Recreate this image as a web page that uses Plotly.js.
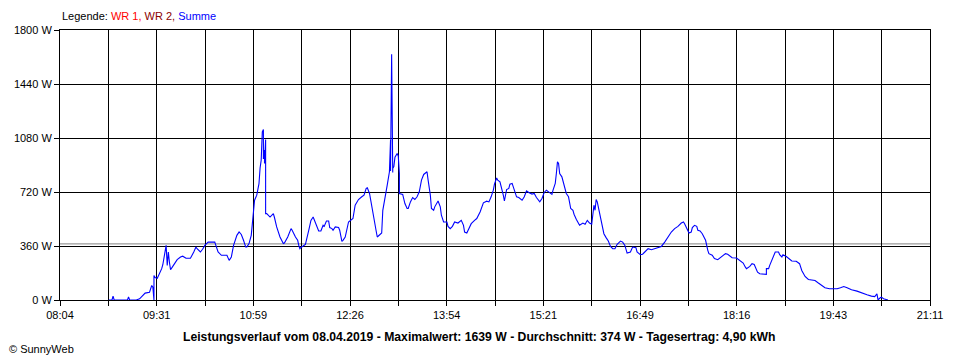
<!DOCTYPE html>
<html>
<head>
<meta charset="utf-8">
<script src="https://cdn.plot.ly/plotly-3.0.1.min.js"></script>
<style>
html,body{margin:0;padding:0;background:#fff;}
#chart{width:960px;height:360px;}
</style>
</head>
<body>
<div id="chart"></div>
<script>
// ---- data ----
const times = [
"08:48","08:51","08:52","08:53","09:05","09:06","09:07","09:13","09:16","09:19",
"09:21","09:25","09:27","09:28","09:29","09:29","09:30","09:32","09:34","09:36",
"09:37","09:39","09:40","09:41","09:42","09:43","09:44","09:46","09:50","09:53",
"09:55","09:58","10:02","10:05","10:07","10:08","10:11","10:13","10:15","10:18",
"10:24","10:25","10:27","10:30","10:35","10:37","10:39","10:41","10:44","10:46",
"10:48","10:50","10:52","10:53","10:55","10:57","10:58","10:59","11:00","11:02",
"11:03","11:04","11:05","11:06","11:07","11:08","11:08","11:09","11:09","11:10",
"11:10","11:11","11:14","11:17","11:18","11:20","11:23","11:26","11:27","11:30",
"11:33","11:34","11:37","11:39","11:40",
"11:41","11:42","11:46","11:49","11:51","11:53","11:55","11:58","12:00","12:02",
"12:03","12:05","12:07","12:08","12:10","12:11","12:13","12:16","12:17","12:19",
"12:20","12:22","12:25","12:27","12:29","12:31","12:34","12:37","12:39","12:41",
"12:42","12:44","12:46","12:48","12:50","12:51","12:53","12:55","12:56","12:59",
"13:00","13:02","13:03","13:03","13:04","13:05","13:05","13:06","13:07","13:09",
"13:10","13:11","13:11","13:14","13:16","13:18","13:19","13:21","13:23","13:25",
"13:27","13:29","13:31","13:33","13:36","13:37","13:39","13:40","13:42","13:43",
"13:45","13:46","13:48","13:49","13:51","13:54","13:55","13:57","13:59","14:01",
"14:04","14:07","14:09","14:10","14:12","14:14","14:16","14:19","14:21","14:24",
"14:27","14:30","14:32","14:34","14:36","14:37","14:39","14:40","14:42",
"14:45","14:46","14:48","14:50","14:51","14:53","14:55","14:57","14:59","15:02",
"15:04","15:06","15:08","15:11","15:13","15:15","15:18","15:20","15:22","15:24",
"15:26","15:29","15:30","15:32","15:33","15:34","15:35","15:36","15:38","15:40",
"15:42","15:44","15:46","15:48","15:49","15:51","15:54","15:57","15:59","16:01",
"16:03","16:05","16:06","16:07","16:08","16:09","16:10","16:12","16:13","16:15",
"16:16","16:18","16:20","16:22","16:24","16:26","16:28","16:31","16:33","16:35",
"16:37","16:40","16:42","16:45","16:46","16:49","16:51","16:53","16:56","16:59",
"17:02","17:06","17:08","17:11","17:14","17:17","17:20","17:23","17:26","17:28",
"17:29","17:31","17:33","17:35","17:36","17:38","17:40","17:41","17:43",
"17:45","17:48","17:50","17:51","17:54","17:56","17:59","18:02","18:06","18:08",
"18:12","18:16","18:18","18:22","18:24","18:25","18:28","18:30","18:32","18:34",
"18:35","18:37","18:40","18:43","18:43","18:45","18:46","18:48","18:49","18:51",
"18:54","18:55","18:57","18:58","19:01","19:03","19:06","19:10","19:13","19:15",
"19:18","19:21","19:27","19:30","19:33","19:36","19:40","19:47","19:50","19:53",
"19:56","20:00","20:05","20:09","20:14","20:18","20:21","20:23","20:24","20:26",
"20:27","20:29","20:32","20:33"
];
const summe = [
0,0,25,0,0,20,0,0,8,30,
46,52,97,86,0,164,150,145,175,209,
235,320,364,231,320,250,202,224,269,287,
292,278,278,320,353,342,320,338,364,386,
386,364,320,298,298,264,287,364,431,454,
437,398,353,353,376,431,520,576,665,699,
754,776,880,932,1121,1137,940,999,910,1070,
576,576,553,576,550,487,420,376,380,420,
476,465,420,398,364,
342,350,371,464,531,553,520,460,460,498,
491,527,527,483,476,465,487,483,465,391,
398,420,520,531,543,632,670,688,699,744,
748,710,621,520,460,420,435,447,598,710,
766,855,1067,860,1639,850,877,890,952,977,
960,843,710,704,643,610,610,654,683,670,
688,721,799,837,855,799,699,610,598,621,
654,660,621,565,520,520,491,476,491,520,
513,531,498,453,447,476,509,531,543,587,
648,659,654,688,732,772,814,799,788,
699,660,736,744,772,777,732,688,683,665,
688,728,717,706,710,683,654,677,717,732,
721,704,732,777,843,921,910,843,821,754,
710,688,610,598,572,539,498,513,505,531,
513,505,565,632,598,670,654,587,543,491,
442,416,393,357,342,342,371,393,386,364,
313,320,353,349,320,302,305,320,342,335,
342,349,357,386,420,453,476,491,513,520,
509,483,447,453,483,498,491,465,460,
442,398,331,309,298,276,269,287,309,305,
282,280,269,246,219,209,224,242,237,209,
186,175,171,171,209,209,231,264,290,320,
320,302,287,302,290,276,260,258,242,197,
157,137,130,113,97,82,75,75,82,90,
82,68,59,46,35,26,23,41,1,15,
19,8,1,0
];
const average = 374;      // Durchschnitt, W
const xTickLabels = ["08:04","09:31","10:59","12:26","13:54","15:21","16:49","18:16","19:43","21:11"];
const yTickValues = [0, 360, 720, 1080, 1440, 1800];
const yTickLabels = ["0 W","360 W","720 W","1080 W","1440 W","1800 W"];
const titleText = "Leistungsverlauf vom 08.04.2019 - Maximalwert: 1639 W - Durchschnitt: 374 W - Tagesertrag: 4,90 kWh";

// ---- helpers ----
function toMin(s){ const p = s.split(":"); return (+p[0])*60 + (+p[1]); }
const xs = times.map(toMin);
const xStart = toMin(xTickLabels[0]);
const xEnd = toMin(xTickLabels[xTickLabels.length-1]);
const nGrid = (xTickLabels.length-1)*2;
const xTickVals = [], xTickText = [];
for (let i = 0; i <= nGrid; i++) {
  xTickVals.push(xStart + i*(xEnd-xStart)/nGrid);
  xTickText.push(i % 2 === 0 ? xTickLabels[i/2] : "");
}

const FONT = "Liberation Sans, Arial, sans-serif";

const trace = {
  x: xs, y: summe, type: "scatter", mode: "lines",
  line: {color: "#0000FF", width: 1.1},
  hoverinfo: "skip", showlegend: false
};

const axisCommon = {
  showgrid: true, gridcolor: "#000000", gridwidth: 1,
  showline: true, linecolor: "#000000", linewidth: 1, mirror: true,
  ticks: "outside", ticklen: 5, tickcolor: "#000000", tickwidth: 1,
  zeroline: false, fixedrange: true,
  tickfont: {family: FONT, size: 11, color: "#000000"}
};

const layout = {
  width: 960, height: 360,
  margin: {l: 60, r: 30, t: 30, b: 60},
  paper_bgcolor: "#ffffff", plot_bgcolor: "#ffffff",
  xaxis: Object.assign({}, axisCommon, {
    range: [xStart, xEnd], tickmode: "array", tickvals: xTickVals, ticktext: xTickText
  }),
  yaxis: Object.assign({}, axisCommon, {
    range: [0, 1800], tickmode: "array", tickvals: yTickValues, ticktext: yTickLabels
  }),
  shapes: [{
    type: "line", xref: "paper", x0: 0, x1: 1, yref: "y", y0: average, y1: average,
    line: {color: "#808080", width: 1}, layer: "below"
  }],
  annotations: [
    {
      xref: "paper", yref: "paper", x: 0, y: 1.052, xanchor: "left", yanchor: "middle",
      showarrow: false, font: {family: FONT, size: 11, color: "#000000"},
      text: 'Legende: <span style="color:#FF0000">WR 1, </span><span style="color:#8B0000">WR 2, </span><span style="color:#0000FF">Summe</span>'
    },
    {
      xref: "paper", yref: "paper", x: 0.4816, y: -0.136, xanchor: "center", yanchor: "middle",
      showarrow: false, font: {family: FONT, size: 12.2, color: "#000000"},
      text: "<b>" + titleText + "</b>"
    },
    {
      xref: "paper", yref: "paper", x: -0.061, y: -0.181, xanchor: "left", yanchor: "middle",
      showarrow: false, font: {family: FONT, size: 11, color: "#000000"},
      text: "© SunnyWeb"
    }
  ]
};

Plotly.newPlot("chart", [trace], layout, {displayModeBar: false, staticPlot: true});
</script>
</body>
</html>
